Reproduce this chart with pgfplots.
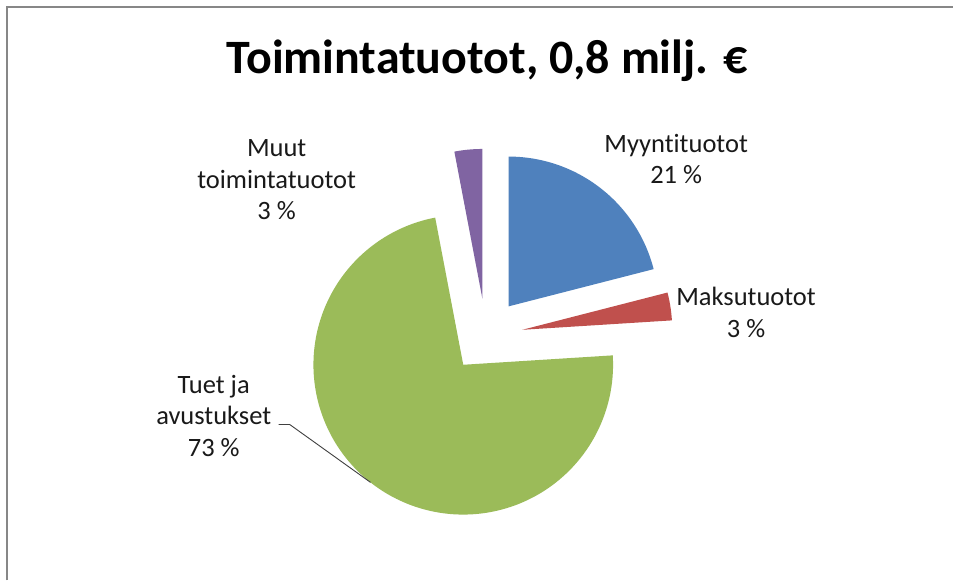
\documentclass[border=0pt]{standalone}
\usepackage{pgfplots}
\pgfplotsset{compat=1.18}
\usepackage{fontspec}
\setmainfont{Carlito}[RawFeature={-liga}]
\definecolor{cblue}{HTML}{4F81BD}
\definecolor{cred}{HTML}{C0504D}
\definecolor{cgreen}{HTML}{9BBB59}
\definecolor{cpurple}{HTML}{8064A2}
\definecolor{frame}{HTML}{878787}
% shares (percent)
\def\vA{21}% Myyntituotot
\def\vB{3}%  Maksutuotot
\def\vC{73}% Tuet ja avustukset
\def\vD{3}%  Muut toimintatuotot
\def\R{150}
\def\cx{486.5}
\def\cy{245}
\def\dd{37}
\pgfmathsetmacro\aA{90}
\pgfmathsetmacro\aB{\aA-3.6*\vA}
\pgfmathsetmacro\aC{\aB-3.6*\vB}
\pgfmathsetmacro\aD{\aC-3.6*\vC}
\pgfmathsetmacro\aE{\aD-3.6*\vD}
\pgfmathsetmacro\axA{\cx+\dd*cos((\aA+\aB)/2)}
\pgfmathsetmacro\ayA{\cy+\dd*sin((\aA+\aB)/2)}
\pgfmathsetmacro\axB{\cx+\dd*cos((\aB+\aC)/2)}
\pgfmathsetmacro\ayB{\cy+\dd*sin((\aB+\aC)/2)}
\pgfmathsetmacro\axC{\cx+\dd*cos((\aC+\aD)/2)}
\pgfmathsetmacro\ayC{\cy+\dd*sin((\aC+\aD)/2)}
\pgfmathsetmacro\axD{\cx+\dd*cos((\aD+\aE)/2)}
\pgfmathsetmacro\ayD{\cy+\dd*sin((\aD+\aE)/2)}
\begin{document}
\begin{tikzpicture}
\begin{axis}[width=954pt,height=581pt,scale only axis,
  xmin=0,xmax=954,ymin=0,ymax=581,hide axis,clip=false,
  every axis plot/.append style={draw=none}]
\path[fill=white] (axis cs:0,0) rectangle (axis cs:954,581);
\draw[frame,line width=2.4pt] (axis cs:7,0) -- (axis cs:7,574) -- (axis cs:954,574);
\addplot[fill=cblue,domain=\aB:\aA,samples=80,variable=\t]
  ({\axA+\R*cos(\t)},{\ayA+\R*sin(\t)}) -- (axis cs:\axA,\ayA) -- cycle;
\addplot[fill=cred,domain=\aC:\aB,samples=20,variable=\t]
  ({\axB+\R*cos(\t)},{\ayB+\R*sin(\t)}) -- (axis cs:\axB,\ayB) -- cycle;
\addplot[fill=cgreen,domain=\aD:\aC,samples=200,variable=\t]
  ({\axC+\R*cos(\t)},{\ayC+\R*sin(\t)}) -- (axis cs:\axC,\ayC) -- cycle;
\addplot[fill=cpurple,domain=\aE:\aD,samples=20,variable=\t]
  ({\axD+\R*cos(\t)},{\ayD+\R*sin(\t)}) -- (axis cs:\axD,\ayD) -- cycle;
\draw[black!75,line width=0.9pt] (axis cs:279,156) -- (axis cs:290,156) -- (axis cs:371,98);
\node[font=\fontsize{48}{56}\selectfont\bfseries,anchor=base] at (axis cs:487.5,507) {Toimintatuotot, 0,8 milj. €};
\tikzset{lbl/.style={font=\fontsize{26.5}{31.7}\selectfont,align=center,anchor=base,text=black!90,inner sep=0pt}}
\node[lbl] at (axis cs:677,397) {Myyntituotot\\21 \%};
\node[lbl] at (axis cs:747,243) {Maksutuotot\\3 \%};
\node[lbl] at (axis cs:277,361) {Muut\\toimintatuotot\\3 \%};
\node[lbl] at (axis cs:214,124) {Tuet ja\\avustukset\\73 \%};
\end{axis}
\end{tikzpicture}
\end{document}
